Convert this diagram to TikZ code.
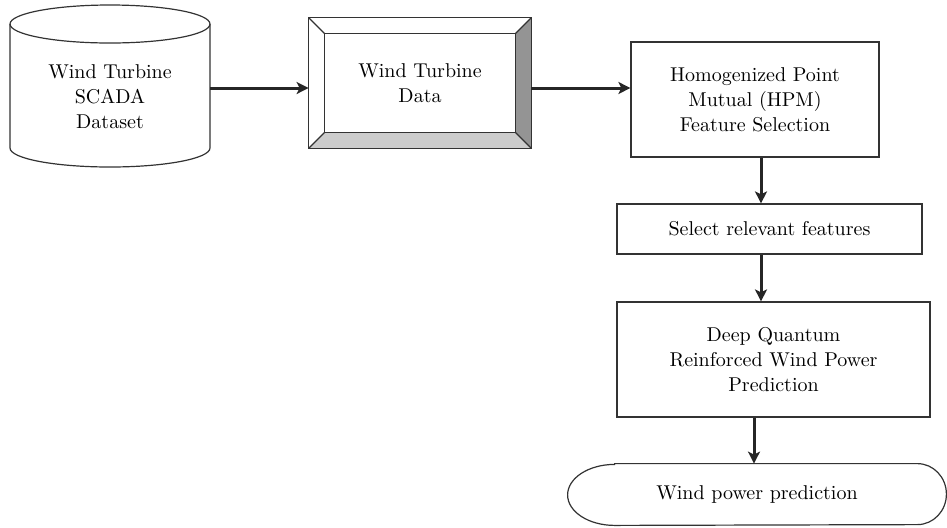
\documentclass[tikz,border=0pt]{standalone}
\usepackage{tikz}
\usetikzlibrary{shapes,arrows.meta,positioning}

\begin{document}
\begin{tikzpicture}[x=0.5pt,y=0.5pt,
  every node/.style={font=\fontsize{10}{12.5}\selectfont, text=black, align=center},
  shp/.style={draw=black!80, line width=0.6pt},
  box/.style={shp, rectangle, inner sep=0pt},
  arr/.style={-{Stealth[length=6pt,width=6pt,inset=1.5pt]}, line width=1.5pt, black!85}]
\useasboundingbox (0,0) rectangle (947,-527);
% Data source (cylinder)
\draw[shp] (10,-24) -- (10,-148) arc[start angle=180, end angle=360, x radius=50pt, y radius=9.5pt] -- (210,-24);
\draw[shp] (110,-24) ellipse [x radius=50pt, y radius=9.5pt];
\node[minimum width=100pt, inner sep=0pt] (dataset) at (110,-97) {Wind Turbine\\SCADA\\Dataset};
% Bevelled data box
\node[minimum width=111pt, minimum height=65pt, inner sep=0pt] (data) at (420,-83) {Wind Turbine\\Data};
\fill[black!20] (data.south west) -- (data.south east) -- ([shift={(-8pt,8pt)}]data.south east) -- ([shift={(8pt,8pt)}]data.south west) -- cycle;
\fill[black!42] (data.south east) -- (data.north east) -- ([shift={(-8pt,-8pt)}]data.north east) -- ([shift={(-8pt,8pt)}]data.south east) -- cycle;
\draw[shp] ([shift={(8pt,8pt)}]data.south west) rectangle ([shift={(-8pt,-8pt)}]data.north east);
\foreach \a/\sx/\sy in {south west/8/8, south east/-8/8, north east/-8/-8, north west/8/-8} {
    \draw[shp] (data.\a) -- ([shift={(\sx pt,\sy pt)}]data.\a);
}
\draw[shp] (data.south west) rectangle (data.north east);
% Processing steps
\node[box, minimum width=124pt, minimum height=57.5pt] (hpm) at (755,-99.5) {Homogenized Point\\Mutual (HPM)\\Feature Selection};
\node[box, minimum width=152.5pt, minimum height=25pt] (select) at (769.5,-229) {Select relevant features};
\node[box, minimum width=156.5pt, minimum height=57.5pt] (deep) at (773.5,-359.5) {Deep Quantum\\Reinforced Wind Power\\Prediction};
% Output terminal
\node[minimum width=189pt, minimum height=30.5pt, inner sep=0pt] (pred) at (757,-494.5) {Wind power prediction};
\draw[shp] ([xshift=23.5pt]pred.north west) -- ([xshift=-14.5pt]pred.north east)
    arc[start angle=90, end angle=-90, x radius=14.5pt, y radius=15.25pt]
    -- ([xshift=23.5pt]pred.south west)
    arc[start angle=270, end angle=90, x radius=23.5pt, y radius=15.25pt] -- cycle;
% Arrows
\draw[arr] ([yshift=4.5pt]dataset.east) -- ([yshift=4.5pt]dataset.east -| data.west);
\draw[arr] ([yshift=-2.5pt]data.east) -- ([yshift=-2.5pt]data.east -| hpm.west);
\draw[arr] ([xshift=3pt]hpm.south) -- ([xshift=3pt]hpm.south |- select.north);
\draw[arr] ([xshift=-4.25pt]select.south) -- ([xshift=-4.25pt]select.south |- deep.north);
\draw[arr] ([xshift=-9.75pt]deep.south) -- ([xshift=-9.75pt]deep.south |- pred.north);
\end{tikzpicture}
\end{document}
